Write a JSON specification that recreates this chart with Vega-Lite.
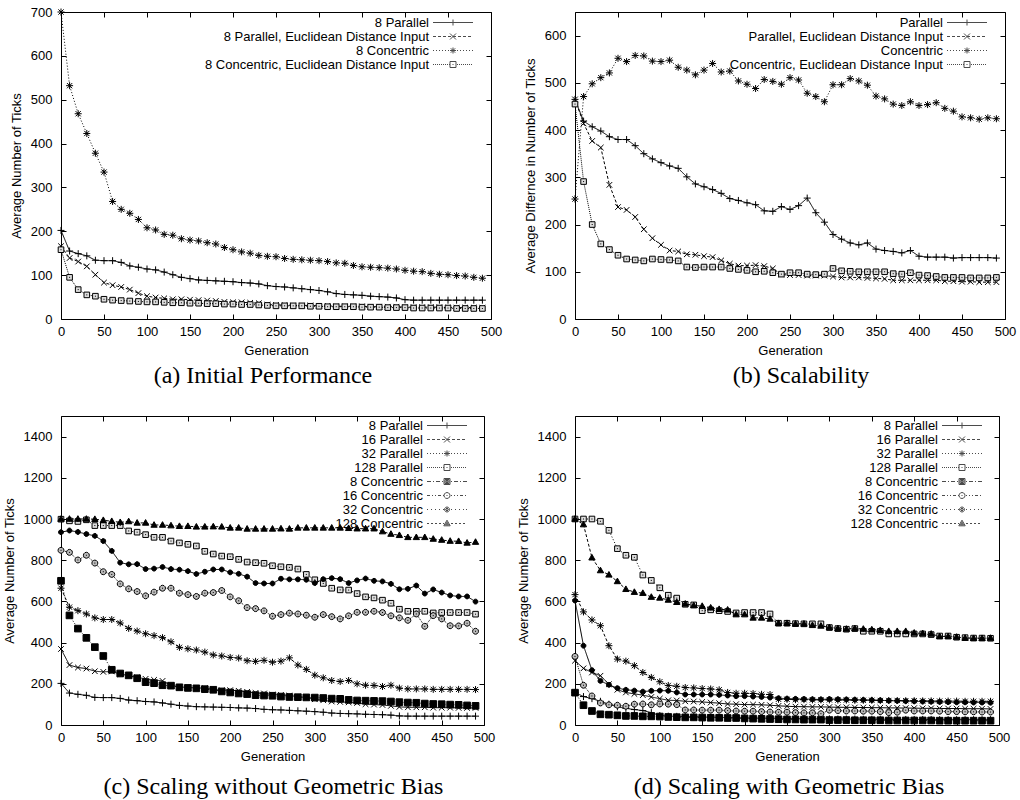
{
"$schema":"https://vega.github.io/schema/vega-lite/v6.json",
"padding":{"left":2,"top":5,"right":5,"bottom":0},
"datasets":{
"a":[
{"g":0,"8 Parallel":202,"8 Parallel, Euclidean Distance Input":166,"8 Concentric":700,"8 Concentric, Euclidean Distance Input":158},
{"g":10,"8 Parallel":155,"8 Parallel, Euclidean Distance Input":139,"8 Concentric":532,"8 Concentric, Euclidean Distance Input":95},
{"g":20,"8 Parallel":149,"8 Parallel, Euclidean Distance Input":131,"8 Concentric":468,"8 Concentric, Euclidean Distance Input":67},
{"g":30,"8 Parallel":144,"8 Parallel, Euclidean Distance Input":120,"8 Concentric":423,"8 Concentric, Euclidean Distance Input":55},
{"g":40,"8 Parallel":134,"8 Parallel, Euclidean Distance Input":101,"8 Concentric":378,"8 Concentric, Euclidean Distance Input":52},
{"g":50,"8 Parallel":133,"8 Parallel, Euclidean Distance Input":83,"8 Concentric":335,"8 Concentric, Euclidean Distance Input":45},
{"g":60,"8 Parallel":133,"8 Parallel, Euclidean Distance Input":77,"8 Concentric":268,"8 Concentric, Euclidean Distance Input":43},
{"g":70,"8 Parallel":129,"8 Parallel, Euclidean Distance Input":73,"8 Concentric":250,"8 Concentric, Euclidean Distance Input":42},
{"g":80,"8 Parallel":121,"8 Parallel, Euclidean Distance Input":67,"8 Concentric":241,"8 Concentric, Euclidean Distance Input":41},
{"g":90,"8 Parallel":118,"8 Parallel, Euclidean Distance Input":59,"8 Concentric":227,"8 Concentric, Euclidean Distance Input":40},
{"g":100,"8 Parallel":114,"8 Parallel, Euclidean Distance Input":52,"8 Concentric":208,"8 Concentric, Euclidean Distance Input":39},
{"g":110,"8 Parallel":112,"8 Parallel, Euclidean Distance Input":49,"8 Concentric":203,"8 Concentric, Euclidean Distance Input":39},
{"g":120,"8 Parallel":107,"8 Parallel, Euclidean Distance Input":47,"8 Concentric":193,"8 Concentric, Euclidean Distance Input":38},
{"g":130,"8 Parallel":101,"8 Parallel, Euclidean Distance Input":45,"8 Concentric":191,"8 Concentric, Euclidean Distance Input":37},
{"g":140,"8 Parallel":95,"8 Parallel, Euclidean Distance Input":45,"8 Concentric":183,"8 Concentric, Euclidean Distance Input":37},
{"g":150,"8 Parallel":92,"8 Parallel, Euclidean Distance Input":44,"8 Concentric":180,"8 Concentric, Euclidean Distance Input":36},
{"g":160,"8 Parallel":89,"8 Parallel, Euclidean Distance Input":43,"8 Concentric":178,"8 Concentric, Euclidean Distance Input":36},
{"g":170,"8 Parallel":88,"8 Parallel, Euclidean Distance Input":42,"8 Concentric":174,"8 Concentric, Euclidean Distance Input":35},
{"g":180,"8 Parallel":87,"8 Parallel, Euclidean Distance Input":41,"8 Concentric":171,"8 Concentric, Euclidean Distance Input":35},
{"g":190,"8 Parallel":86,"8 Parallel, Euclidean Distance Input":39,"8 Concentric":163,"8 Concentric, Euclidean Distance Input":34},
{"g":200,"8 Parallel":85,"8 Parallel, Euclidean Distance Input":38,"8 Concentric":158,"8 Concentric, Euclidean Distance Input":34},
{"g":210,"8 Parallel":83,"8 Parallel, Euclidean Distance Input":38,"8 Concentric":153,"8 Concentric, Euclidean Distance Input":33},
{"g":220,"8 Parallel":82,"8 Parallel, Euclidean Distance Input":37,"8 Concentric":150,"8 Concentric, Euclidean Distance Input":33},
{"g":230,"8 Parallel":80,"8 Parallel, Euclidean Distance Input":36,"8 Concentric":145,"8 Concentric, Euclidean Distance Input":32},
{"g":240,"8 Parallel":76,"8 Parallel, Euclidean Distance Input":33,"8 Concentric":143,"8 Concentric, Euclidean Distance Input":31},
{"g":250,"8 Parallel":74,"8 Parallel, Euclidean Distance Input":32,"8 Concentric":142,"8 Concentric, Euclidean Distance Input":30},
{"g":260,"8 Parallel":73,"8 Parallel, Euclidean Distance Input":32,"8 Concentric":138,"8 Concentric, Euclidean Distance Input":30},
{"g":270,"8 Parallel":71,"8 Parallel, Euclidean Distance Input":31,"8 Concentric":136,"8 Concentric, Euclidean Distance Input":30},
{"g":280,"8 Parallel":69,"8 Parallel, Euclidean Distance Input":31,"8 Concentric":135,"8 Concentric, Euclidean Distance Input":30},
{"g":290,"8 Parallel":67,"8 Parallel, Euclidean Distance Input":31,"8 Concentric":134,"8 Concentric, Euclidean Distance Input":29},
{"g":300,"8 Parallel":65,"8 Parallel, Euclidean Distance Input":30,"8 Concentric":133,"8 Concentric, Euclidean Distance Input":29},
{"g":310,"8 Parallel":62,"8 Parallel, Euclidean Distance Input":30,"8 Concentric":131,"8 Concentric, Euclidean Distance Input":28},
{"g":320,"8 Parallel":58,"8 Parallel, Euclidean Distance Input":29,"8 Concentric":128,"8 Concentric, Euclidean Distance Input":28},
{"g":330,"8 Parallel":56,"8 Parallel, Euclidean Distance Input":29,"8 Concentric":127,"8 Concentric, Euclidean Distance Input":28},
{"g":340,"8 Parallel":55,"8 Parallel, Euclidean Distance Input":29,"8 Concentric":122,"8 Concentric, Euclidean Distance Input":28},
{"g":350,"8 Parallel":54,"8 Parallel, Euclidean Distance Input":29,"8 Concentric":119,"8 Concentric, Euclidean Distance Input":27},
{"g":360,"8 Parallel":52,"8 Parallel, Euclidean Distance Input":28,"8 Concentric":118,"8 Concentric, Euclidean Distance Input":27},
{"g":370,"8 Parallel":51,"8 Parallel, Euclidean Distance Input":28,"8 Concentric":117,"8 Concentric, Euclidean Distance Input":27},
{"g":380,"8 Parallel":50,"8 Parallel, Euclidean Distance Input":28,"8 Concentric":116,"8 Concentric, Euclidean Distance Input":26},
{"g":390,"8 Parallel":48,"8 Parallel, Euclidean Distance Input":28,"8 Concentric":114,"8 Concentric, Euclidean Distance Input":26},
{"g":400,"8 Parallel":44,"8 Parallel, Euclidean Distance Input":27,"8 Concentric":111,"8 Concentric, Euclidean Distance Input":26},
{"g":410,"8 Parallel":43,"8 Parallel, Euclidean Distance Input":27,"8 Concentric":109,"8 Concentric, Euclidean Distance Input":25},
{"g":420,"8 Parallel":43,"8 Parallel, Euclidean Distance Input":27,"8 Concentric":108,"8 Concentric, Euclidean Distance Input":25},
{"g":430,"8 Parallel":43,"8 Parallel, Euclidean Distance Input":27,"8 Concentric":104,"8 Concentric, Euclidean Distance Input":25},
{"g":440,"8 Parallel":43,"8 Parallel, Euclidean Distance Input":27,"8 Concentric":102,"8 Concentric, Euclidean Distance Input":25},
{"g":450,"8 Parallel":43,"8 Parallel, Euclidean Distance Input":26,"8 Concentric":101,"8 Concentric, Euclidean Distance Input":25},
{"g":460,"8 Parallel":43,"8 Parallel, Euclidean Distance Input":26,"8 Concentric":99,"8 Concentric, Euclidean Distance Input":24},
{"g":470,"8 Parallel":43,"8 Parallel, Euclidean Distance Input":26,"8 Concentric":98,"8 Concentric, Euclidean Distance Input":24},
{"g":480,"8 Parallel":43,"8 Parallel, Euclidean Distance Input":26,"8 Concentric":95,"8 Concentric, Euclidean Distance Input":24},
{"g":490,"8 Parallel":43,"8 Parallel, Euclidean Distance Input":26,"8 Concentric":93,"8 Concentric, Euclidean Distance Input":24}
],
"b":[
{"g":0,"Parallel":465,"Parallel, Euclidean Distance Input":465,"Concentric":254,"Concentric, Euclidean Distance Input":455},
{"g":10,"Parallel":419,"Parallel, Euclidean Distance Input":414,"Concentric":471,"Concentric, Euclidean Distance Input":291},
{"g":20,"Parallel":407,"Parallel, Euclidean Distance Input":377,"Concentric":498,"Concentric, Euclidean Distance Input":200},
{"g":30,"Parallel":398,"Parallel, Euclidean Distance Input":363,"Concentric":511,"Concentric, Euclidean Distance Input":159},
{"g":40,"Parallel":386,"Parallel, Euclidean Distance Input":284,"Concentric":521,"Concentric, Euclidean Distance Input":147},
{"g":50,"Parallel":380,"Parallel, Euclidean Distance Input":237,"Concentric":552,"Concentric, Euclidean Distance Input":135},
{"g":60,"Parallel":380,"Parallel, Euclidean Distance Input":231,"Concentric":545,"Concentric, Euclidean Distance Input":127},
{"g":70,"Parallel":367,"Parallel, Euclidean Distance Input":216,"Concentric":558,"Concentric, Euclidean Distance Input":125},
{"g":80,"Parallel":350,"Parallel, Euclidean Distance Input":190,"Concentric":557,"Concentric, Euclidean Distance Input":123},
{"g":90,"Parallel":339,"Parallel, Euclidean Distance Input":171,"Concentric":546,"Concentric, Euclidean Distance Input":127},
{"g":100,"Parallel":331,"Parallel, Euclidean Distance Input":157,"Concentric":545,"Concentric, Euclidean Distance Input":126},
{"g":110,"Parallel":324,"Parallel, Euclidean Distance Input":145,"Concentric":548,"Concentric, Euclidean Distance Input":125},
{"g":120,"Parallel":319,"Parallel, Euclidean Distance Input":143,"Concentric":533,"Concentric, Euclidean Distance Input":123},
{"g":130,"Parallel":301,"Parallel, Euclidean Distance Input":137,"Concentric":527,"Concentric, Euclidean Distance Input":110},
{"g":140,"Parallel":286,"Parallel, Euclidean Distance Input":136,"Concentric":517,"Concentric, Euclidean Distance Input":109},
{"g":150,"Parallel":280,"Parallel, Euclidean Distance Input":133,"Concentric":527,"Concentric, Euclidean Distance Input":110},
{"g":160,"Parallel":274,"Parallel, Euclidean Distance Input":131,"Concentric":541,"Concentric, Euclidean Distance Input":110},
{"g":170,"Parallel":266,"Parallel, Euclidean Distance Input":124,"Concentric":523,"Concentric, Euclidean Distance Input":110},
{"g":180,"Parallel":255,"Parallel, Euclidean Distance Input":117,"Concentric":525,"Concentric, Euclidean Distance Input":107},
{"g":190,"Parallel":251,"Parallel, Euclidean Distance Input":113,"Concentric":504,"Concentric, Euclidean Distance Input":105},
{"g":200,"Parallel":246,"Parallel, Euclidean Distance Input":113,"Concentric":497,"Concentric, Euclidean Distance Input":103},
{"g":210,"Parallel":242,"Parallel, Euclidean Distance Input":114,"Concentric":488,"Concentric, Euclidean Distance Input":100},
{"g":220,"Parallel":229,"Parallel, Euclidean Distance Input":112,"Concentric":507,"Concentric, Euclidean Distance Input":101},
{"g":230,"Parallel":228,"Parallel, Euclidean Distance Input":107,"Concentric":503,"Concentric, Euclidean Distance Input":98},
{"g":240,"Parallel":238,"Parallel, Euclidean Distance Input":94,"Concentric":497,"Concentric, Euclidean Distance Input":95},
{"g":250,"Parallel":232,"Parallel, Euclidean Distance Input":93,"Concentric":511,"Concentric, Euclidean Distance Input":98},
{"g":260,"Parallel":240,"Parallel, Euclidean Distance Input":93,"Concentric":506,"Concentric, Euclidean Distance Input":98},
{"g":270,"Parallel":256,"Parallel, Euclidean Distance Input":92,"Concentric":478,"Concentric, Euclidean Distance Input":95},
{"g":280,"Parallel":225,"Parallel, Euclidean Distance Input":92,"Concentric":471,"Concentric, Euclidean Distance Input":94},
{"g":290,"Parallel":205,"Parallel, Euclidean Distance Input":92,"Concentric":460,"Concentric, Euclidean Distance Input":95},
{"g":300,"Parallel":179,"Parallel, Euclidean Distance Input":90,"Concentric":496,"Concentric, Euclidean Distance Input":107},
{"g":310,"Parallel":169,"Parallel, Euclidean Distance Input":88,"Concentric":496,"Concentric, Euclidean Distance Input":102},
{"g":320,"Parallel":161,"Parallel, Euclidean Distance Input":88,"Concentric":509,"Concentric, Euclidean Distance Input":101},
{"g":330,"Parallel":157,"Parallel, Euclidean Distance Input":88,"Concentric":504,"Concentric, Euclidean Distance Input":100},
{"g":340,"Parallel":161,"Parallel, Euclidean Distance Input":87,"Concentric":495,"Concentric, Euclidean Distance Input":100},
{"g":350,"Parallel":148,"Parallel, Euclidean Distance Input":86,"Concentric":472,"Concentric, Euclidean Distance Input":100},
{"g":360,"Parallel":145,"Parallel, Euclidean Distance Input":85,"Concentric":466,"Concentric, Euclidean Distance Input":100},
{"g":370,"Parallel":143,"Parallel, Euclidean Distance Input":82,"Concentric":455,"Concentric, Euclidean Distance Input":96},
{"g":380,"Parallel":140,"Parallel, Euclidean Distance Input":82,"Concentric":452,"Concentric, Euclidean Distance Input":95},
{"g":390,"Parallel":145,"Parallel, Euclidean Distance Input":82,"Concentric":460,"Concentric, Euclidean Distance Input":98},
{"g":400,"Parallel":133,"Parallel, Euclidean Distance Input":82,"Concentric":452,"Concentric, Euclidean Distance Input":93},
{"g":410,"Parallel":131,"Parallel, Euclidean Distance Input":82,"Concentric":454,"Concentric, Euclidean Distance Input":92},
{"g":420,"Parallel":131,"Parallel, Euclidean Distance Input":82,"Concentric":458,"Concentric, Euclidean Distance Input":90},
{"g":430,"Parallel":131,"Parallel, Euclidean Distance Input":80,"Concentric":446,"Concentric, Euclidean Distance Input":88},
{"g":440,"Parallel":129,"Parallel, Euclidean Distance Input":80,"Concentric":440,"Concentric, Euclidean Distance Input":88},
{"g":450,"Parallel":130,"Parallel, Euclidean Distance Input":79,"Concentric":428,"Concentric, Euclidean Distance Input":88},
{"g":460,"Parallel":130,"Parallel, Euclidean Distance Input":79,"Concentric":426,"Concentric, Euclidean Distance Input":87},
{"g":470,"Parallel":130,"Parallel, Euclidean Distance Input":78,"Concentric":423,"Concentric, Euclidean Distance Input":87},
{"g":480,"Parallel":130,"Parallel, Euclidean Distance Input":78,"Concentric":426,"Concentric, Euclidean Distance Input":87},
{"g":490,"Parallel":129,"Parallel, Euclidean Distance Input":78,"Concentric":424,"Concentric, Euclidean Distance Input":88}
],
"c":[
{"g":0,"8 Parallel":202,"16 Parallel":369,"32 Parallel":664,"128 Parallel":999,"8 Concentric":700,"16 Concentric":848,"32 Concentric":936,"128 Concentric":1000},
{"g":10,"8 Parallel":155,"16 Parallel":291,"32 Parallel":572,"128 Parallel":991,"8 Concentric":532,"16 Concentric":838,"32 Concentric":944,"128 Concentric":1000},
{"g":20,"8 Parallel":149,"16 Parallel":279,"32 Parallel":555,"128 Parallel":988,"8 Concentric":468,"16 Concentric":801,"32 Concentric":937,"128 Concentric":1000},
{"g":30,"8 Parallel":144,"16 Parallel":274,"32 Parallel":539,"128 Parallel":996,"8 Concentric":423,"16 Concentric":824,"32 Concentric":927,"128 Concentric":1000},
{"g":40,"8 Parallel":134,"16 Parallel":261,"32 Parallel":520,"128 Parallel":968,"8 Concentric":378,"16 Concentric":786,"32 Concentric":918,"128 Concentric":999},
{"g":50,"8 Parallel":133,"16 Parallel":258,"32 Parallel":512,"128 Parallel":968,"8 Concentric":335,"16 Concentric":744,"32 Concentric":893,"128 Concentric":994},
{"g":60,"8 Parallel":133,"16 Parallel":260,"32 Parallel":512,"128 Parallel":968,"8 Concentric":268,"16 Concentric":731,"32 Concentric":845,"128 Concentric":989},
{"g":70,"8 Parallel":129,"16 Parallel":247,"32 Parallel":495,"128 Parallel":968,"8 Concentric":250,"16 Concentric":685,"32 Concentric":788,"128 Concentric":984},
{"g":80,"8 Parallel":121,"16 Parallel":240,"32 Parallel":469,"128 Parallel":942,"8 Concentric":241,"16 Concentric":661,"32 Concentric":780,"128 Concentric":988},
{"g":90,"8 Parallel":118,"16 Parallel":231,"32 Parallel":456,"128 Parallel":936,"8 Concentric":227,"16 Concentric":648,"32 Concentric":781,"128 Concentric":981},
{"g":100,"8 Parallel":114,"16 Parallel":224,"32 Parallel":443,"128 Parallel":924,"8 Concentric":208,"16 Concentric":627,"32 Concentric":757,"128 Concentric":981},
{"g":110,"8 Parallel":112,"16 Parallel":219,"32 Parallel":434,"128 Parallel":911,"8 Concentric":203,"16 Concentric":645,"32 Concentric":759,"128 Concentric":971},
{"g":120,"8 Parallel":107,"16 Parallel":214,"32 Parallel":424,"128 Parallel":911,"8 Concentric":193,"16 Concentric":664,"32 Concentric":767,"128 Concentric":971},
{"g":130,"8 Parallel":101,"16 Parallel":193,"32 Parallel":404,"128 Parallel":893,"8 Concentric":191,"16 Concentric":664,"32 Concentric":757,"128 Concentric":968},
{"g":140,"8 Parallel":95,"16 Parallel":185,"32 Parallel":377,"128 Parallel":884,"8 Concentric":183,"16 Concentric":640,"32 Concentric":754,"128 Concentric":965},
{"g":150,"8 Parallel":92,"16 Parallel":182,"32 Parallel":370,"128 Parallel":877,"8 Concentric":180,"16 Concentric":633,"32 Concentric":747,"128 Concentric":965},
{"g":160,"8 Parallel":89,"16 Parallel":180,"32 Parallel":364,"128 Parallel":869,"8 Concentric":178,"16 Concentric":624,"32 Concentric":733,"128 Concentric":962},
{"g":170,"8 Parallel":88,"16 Parallel":179,"32 Parallel":354,"128 Parallel":843,"8 Concentric":174,"16 Concentric":640,"32 Concentric":744,"128 Concentric":962},
{"g":180,"8 Parallel":87,"16 Parallel":172,"32 Parallel":340,"128 Parallel":830,"8 Concentric":171,"16 Concentric":643,"32 Concentric":755,"128 Concentric":963},
{"g":190,"8 Parallel":86,"16 Parallel":169,"32 Parallel":335,"128 Parallel":820,"8 Concentric":163,"16 Concentric":653,"32 Concentric":755,"128 Concentric":962},
{"g":200,"8 Parallel":85,"16 Parallel":169,"32 Parallel":328,"128 Parallel":817,"8 Concentric":158,"16 Concentric":622,"32 Concentric":741,"128 Concentric":957},
{"g":210,"8 Parallel":83,"16 Parallel":166,"32 Parallel":325,"128 Parallel":804,"8 Concentric":153,"16 Concentric":603,"32 Concentric":734,"128 Concentric":957},
{"g":220,"8 Parallel":82,"16 Parallel":161,"32 Parallel":312,"128 Parallel":791,"8 Concentric":150,"16 Concentric":570,"32 Concentric":720,"128 Concentric":952},
{"g":230,"8 Parallel":80,"16 Parallel":156,"32 Parallel":309,"128 Parallel":788,"8 Concentric":145,"16 Concentric":565,"32 Concentric":689,"128 Concentric":952},
{"g":240,"8 Parallel":76,"16 Parallel":153,"32 Parallel":314,"128 Parallel":785,"8 Concentric":143,"16 Concentric":554,"32 Concentric":687,"128 Concentric":952},
{"g":250,"8 Parallel":74,"16 Parallel":148,"32 Parallel":305,"128 Parallel":773,"8 Concentric":142,"16 Concentric":528,"32 Concentric":687,"128 Concentric":952},
{"g":260,"8 Parallel":73,"16 Parallel":146,"32 Parallel":310,"128 Parallel":768,"8 Concentric":138,"16 Concentric":536,"32 Concentric":710,"128 Concentric":953},
{"g":270,"8 Parallel":71,"16 Parallel":143,"32 Parallel":326,"128 Parallel":765,"8 Concentric":136,"16 Concentric":543,"32 Concentric":707,"128 Concentric":952},
{"g":280,"8 Parallel":69,"16 Parallel":138,"32 Parallel":291,"128 Parallel":757,"8 Concentric":135,"16 Concentric":539,"32 Concentric":707,"128 Concentric":957},
{"g":290,"8 Parallel":67,"16 Parallel":133,"32 Parallel":270,"128 Parallel":731,"8 Concentric":134,"16 Concentric":533,"32 Concentric":705,"128 Concentric":957},
{"g":300,"8 Parallel":65,"16 Parallel":125,"32 Parallel":242,"128 Parallel":705,"8 Concentric":133,"16 Concentric":523,"32 Concentric":689,"128 Concentric":957},
{"g":310,"8 Parallel":62,"16 Parallel":120,"32 Parallel":229,"128 Parallel":687,"8 Concentric":131,"16 Concentric":536,"32 Concentric":708,"128 Concentric":957},
{"g":320,"8 Parallel":58,"16 Parallel":114,"32 Parallel":216,"128 Parallel":664,"8 Concentric":128,"16 Concentric":526,"32 Concentric":713,"128 Concentric":957},
{"g":330,"8 Parallel":56,"16 Parallel":112,"32 Parallel":211,"128 Parallel":656,"8 Concentric":127,"16 Concentric":515,"32 Concentric":708,"128 Concentric":957},
{"g":340,"8 Parallel":55,"16 Parallel":110,"32 Parallel":216,"128 Parallel":655,"8 Concentric":122,"16 Concentric":530,"32 Concentric":689,"128 Concentric":955},
{"g":350,"8 Parallel":54,"16 Parallel":107,"32 Parallel":200,"128 Parallel":638,"8 Concentric":119,"16 Concentric":547,"32 Concentric":702,"128 Concentric":953},
{"g":360,"8 Parallel":52,"16 Parallel":101,"32 Parallel":193,"128 Parallel":622,"8 Concentric":118,"16 Concentric":547,"32 Concentric":711,"128 Concentric":953},
{"g":370,"8 Parallel":51,"16 Parallel":99,"32 Parallel":192,"128 Parallel":617,"8 Concentric":117,"16 Concentric":552,"32 Concentric":700,"128 Concentric":953},
{"g":380,"8 Parallel":50,"16 Parallel":97,"32 Parallel":187,"128 Parallel":606,"8 Concentric":116,"16 Concentric":546,"32 Concentric":697,"128 Concentric":939},
{"g":390,"8 Parallel":48,"16 Parallel":93,"32 Parallel":193,"128 Parallel":591,"8 Concentric":114,"16 Concentric":530,"32 Concentric":685,"128 Concentric":927},
{"g":400,"8 Parallel":44,"16 Parallel":88,"32 Parallel":179,"128 Parallel":562,"8 Concentric":111,"16 Concentric":520,"32 Concentric":659,"128 Concentric":921},
{"g":410,"8 Parallel":43,"16 Parallel":86,"32 Parallel":175,"128 Parallel":552,"8 Concentric":109,"16 Concentric":508,"32 Concentric":661,"128 Concentric":911},
{"g":420,"8 Parallel":43,"16 Parallel":86,"32 Parallel":175,"128 Parallel":552,"8 Concentric":108,"16 Concentric":539,"32 Concentric":677,"128 Concentric":911},
{"g":430,"8 Parallel":43,"16 Parallel":86,"32 Parallel":175,"128 Parallel":552,"8 Concentric":104,"16 Concentric":479,"32 Concentric":638,"128 Concentric":911},
{"g":440,"8 Parallel":43,"16 Parallel":84,"32 Parallel":173,"128 Parallel":544,"8 Concentric":102,"16 Concentric":531,"32 Concentric":658,"128 Concentric":903},
{"g":450,"8 Parallel":43,"16 Parallel":84,"32 Parallel":173,"128 Parallel":546,"8 Concentric":101,"16 Concentric":515,"32 Concentric":643,"128 Concentric":898},
{"g":460,"8 Parallel":43,"16 Parallel":84,"32 Parallel":173,"128 Parallel":546,"8 Concentric":99,"16 Concentric":482,"32 Concentric":629,"128 Concentric":893},
{"g":470,"8 Parallel":43,"16 Parallel":83,"32 Parallel":173,"128 Parallel":546,"8 Concentric":98,"16 Concentric":481,"32 Concentric":624,"128 Concentric":892},
{"g":480,"8 Parallel":43,"16 Parallel":83,"32 Parallel":173,"128 Parallel":546,"8 Concentric":95,"16 Concentric":494,"32 Concentric":624,"128 Concentric":884},
{"g":490,"8 Parallel":43,"16 Parallel":83,"32 Parallel":172,"128 Parallel":538,"8 Concentric":93,"16 Concentric":455,"32 Concentric":599,"128 Concentric":888}
],
"d":[
{"g":0,"8 Parallel":158,"16 Parallel":312,"32 Parallel":633,"128 Parallel":1000,"8 Concentric":157,"16 Concentric":333,"32 Concentric":604,"128 Concentric":1000},
{"g":10,"8 Parallel":138,"16 Parallel":275,"32 Parallel":549,"128 Parallel":1000,"8 Concentric":96,"16 Concentric":193,"32 Concentric":385,"128 Concentric":973},
{"g":20,"8 Parallel":128,"16 Parallel":255,"32 Parallel":510,"128 Parallel":1000,"8 Concentric":68,"16 Concentric":141,"32 Concentric":266,"128 Concentric":812},
{"g":30,"8 Parallel":115,"16 Parallel":239,"32 Parallel":482,"128 Parallel":989,"8 Concentric":52,"16 Concentric":107,"32 Concentric":214,"128 Concentric":750},
{"g":40,"8 Parallel":101,"16 Parallel":198,"32 Parallel":385,"128 Parallel":945,"8 Concentric":50,"16 Concentric":98,"32 Concentric":195,"128 Concentric":729},
{"g":50,"8 Parallel":88,"16 Parallel":171,"32 Parallel":320,"128 Parallel":856,"8 Concentric":47,"16 Concentric":96,"32 Concentric":179,"128 Concentric":697},
{"g":60,"8 Parallel":81,"16 Parallel":158,"32 Parallel":310,"128 Parallel":824,"8 Concentric":44,"16 Concentric":91,"32 Concentric":171,"128 Concentric":659},
{"g":70,"8 Parallel":75,"16 Parallel":151,"32 Parallel":288,"128 Parallel":814,"8 Concentric":44,"16 Concentric":101,"32 Concentric":167,"128 Concentric":645},
{"g":80,"8 Parallel":70,"16 Parallel":145,"32 Parallel":255,"128 Parallel":728,"8 Concentric":42,"16 Concentric":102,"32 Concentric":162,"128 Concentric":640},
{"g":90,"8 Parallel":60,"16 Parallel":136,"32 Parallel":231,"128 Parallel":702,"8 Concentric":42,"16 Concentric":98,"32 Concentric":166,"128 Concentric":621},
{"g":100,"8 Parallel":46,"16 Parallel":128,"32 Parallel":210,"128 Parallel":666,"8 Concentric":41,"16 Concentric":102,"32 Concentric":167,"128 Concentric":617},
{"g":110,"8 Parallel":43,"16 Parallel":120,"32 Parallel":192,"128 Parallel":630,"8 Concentric":39,"16 Concentric":101,"32 Concentric":166,"128 Concentric":607},
{"g":120,"8 Parallel":42,"16 Parallel":119,"32 Parallel":188,"128 Parallel":616,"8 Concentric":38,"16 Concentric":99,"32 Concentric":158,"128 Concentric":596},
{"g":130,"8 Parallel":41,"16 Parallel":115,"32 Parallel":182,"128 Parallel":586,"8 Concentric":37,"16 Concentric":73,"32 Concentric":148,"128 Concentric":588},
{"g":140,"8 Parallel":40,"16 Parallel":114,"32 Parallel":180,"128 Parallel":583,"8 Concentric":37,"16 Concentric":73,"32 Concentric":148,"128 Concentric":580},
{"g":150,"8 Parallel":39,"16 Parallel":112,"32 Parallel":177,"128 Parallel":555,"8 Concentric":36,"16 Concentric":72,"32 Concentric":148,"128 Concentric":577},
{"g":160,"8 Parallel":38,"16 Parallel":109,"32 Parallel":175,"128 Parallel":559,"8 Concentric":35,"16 Concentric":72,"32 Concentric":148,"128 Concentric":569},
{"g":170,"8 Parallel":37,"16 Parallel":106,"32 Parallel":171,"128 Parallel":555,"8 Concentric":35,"16 Concentric":72,"32 Concentric":146,"128 Concentric":562},
{"g":180,"8 Parallel":36,"16 Parallel":102,"32 Parallel":158,"128 Parallel":551,"8 Concentric":34,"16 Concentric":70,"32 Concentric":143,"128 Concentric":559},
{"g":190,"8 Parallel":35,"16 Parallel":101,"32 Parallel":154,"128 Parallel":544,"8 Concentric":34,"16 Concentric":68,"32 Concentric":140,"128 Concentric":536},
{"g":200,"8 Parallel":34,"16 Parallel":99,"32 Parallel":154,"128 Parallel":546,"8 Concentric":32,"16 Concentric":67,"32 Concentric":140,"128 Concentric":536},
{"g":210,"8 Parallel":34,"16 Parallel":99,"32 Parallel":153,"128 Parallel":546,"8 Concentric":31,"16 Concentric":67,"32 Concentric":138,"128 Concentric":520},
{"g":220,"8 Parallel":33,"16 Parallel":98,"32 Parallel":149,"128 Parallel":546,"8 Concentric":30,"16 Concentric":65,"32 Concentric":136,"128 Concentric":520},
{"g":230,"8 Parallel":33,"16 Parallel":96,"32 Parallel":148,"128 Parallel":539,"8 Concentric":29,"16 Concentric":63,"32 Concentric":133,"128 Concentric":515},
{"g":240,"8 Parallel":32,"16 Parallel":93,"32 Parallel":125,"128 Parallel":494,"8 Concentric":28,"16 Concentric":62,"32 Concentric":130,"128 Concentric":494},
{"g":250,"8 Parallel":32,"16 Parallel":91,"32 Parallel":125,"128 Parallel":494,"8 Concentric":27,"16 Concentric":62,"32 Concentric":128,"128 Concentric":494},
{"g":260,"8 Parallel":31,"16 Parallel":89,"32 Parallel":123,"128 Parallel":492,"8 Concentric":27,"16 Concentric":60,"32 Concentric":127,"128 Concentric":491},
{"g":270,"8 Parallel":31,"16 Parallel":89,"32 Parallel":123,"128 Parallel":491,"8 Concentric":26,"16 Concentric":59,"32 Concentric":126,"128 Concentric":491},
{"g":280,"8 Parallel":30,"16 Parallel":88,"32 Parallel":122,"128 Parallel":491,"8 Concentric":26,"16 Concentric":59,"32 Concentric":125,"128 Concentric":484},
{"g":290,"8 Parallel":30,"16 Parallel":88,"32 Parallel":122,"128 Parallel":491,"8 Concentric":26,"16 Concentric":55,"32 Concentric":124,"128 Concentric":481},
{"g":300,"8 Parallel":30,"16 Parallel":87,"32 Parallel":122,"128 Parallel":473,"8 Concentric":24,"16 Concentric":72,"32 Concentric":126,"128 Concentric":474},
{"g":310,"8 Parallel":29,"16 Parallel":86,"32 Parallel":121,"128 Parallel":468,"8 Concentric":24,"16 Concentric":70,"32 Concentric":125,"128 Concentric":469},
{"g":320,"8 Parallel":29,"16 Parallel":86,"32 Parallel":121,"128 Parallel":465,"8 Concentric":24,"16 Concentric":68,"32 Concentric":124,"128 Concentric":466},
{"g":330,"8 Parallel":29,"16 Parallel":85,"32 Parallel":120,"128 Parallel":468,"8 Concentric":23,"16 Concentric":68,"32 Concentric":123,"128 Concentric":469},
{"g":340,"8 Parallel":28,"16 Parallel":85,"32 Parallel":120,"128 Parallel":455,"8 Concentric":23,"16 Concentric":67,"32 Concentric":122,"128 Concentric":466},
{"g":350,"8 Parallel":28,"16 Parallel":84,"32 Parallel":120,"128 Parallel":455,"8 Concentric":23,"16 Concentric":67,"32 Concentric":121,"128 Concentric":463},
{"g":360,"8 Parallel":28,"16 Parallel":84,"32 Parallel":119,"128 Parallel":455,"8 Concentric":23,"16 Concentric":65,"32 Concentric":120,"128 Concentric":460},
{"g":370,"8 Parallel":28,"16 Parallel":83,"32 Parallel":119,"128 Parallel":442,"8 Concentric":22,"16 Concentric":60,"32 Concentric":118,"128 Concentric":455},
{"g":380,"8 Parallel":27,"16 Parallel":83,"32 Parallel":119,"128 Parallel":442,"8 Concentric":22,"16 Concentric":62,"32 Concentric":117,"128 Concentric":455},
{"g":390,"8 Parallel":27,"16 Parallel":82,"32 Parallel":118,"128 Parallel":442,"8 Concentric":22,"16 Concentric":72,"32 Concentric":116,"128 Concentric":455},
{"g":400,"8 Parallel":27,"16 Parallel":82,"32 Parallel":118,"128 Parallel":442,"8 Concentric":22,"16 Concentric":68,"32 Concentric":115,"128 Concentric":447},
{"g":410,"8 Parallel":27,"16 Parallel":81,"32 Parallel":117,"128 Parallel":442,"8 Concentric":22,"16 Concentric":68,"32 Concentric":114,"128 Concentric":445},
{"g":420,"8 Parallel":27,"16 Parallel":81,"32 Parallel":117,"128 Parallel":439,"8 Concentric":22,"16 Concentric":68,"32 Concentric":113,"128 Concentric":442},
{"g":430,"8 Parallel":26,"16 Parallel":80,"32 Parallel":116,"128 Parallel":432,"8 Concentric":21,"16 Concentric":67,"32 Concentric":112,"128 Concentric":430},
{"g":440,"8 Parallel":26,"16 Parallel":80,"32 Parallel":116,"128 Parallel":432,"8 Concentric":21,"16 Concentric":65,"32 Concentric":111,"128 Concentric":430},
{"g":450,"8 Parallel":26,"16 Parallel":80,"32 Parallel":116,"128 Parallel":426,"8 Concentric":21,"16 Concentric":65,"32 Concentric":110,"128 Concentric":427},
{"g":460,"8 Parallel":26,"16 Parallel":79,"32 Parallel":115,"128 Parallel":424,"8 Concentric":21,"16 Concentric":64,"32 Concentric":110,"128 Concentric":422},
{"g":470,"8 Parallel":26,"16 Parallel":79,"32 Parallel":115,"128 Parallel":422,"8 Concentric":21,"16 Concentric":64,"32 Concentric":109,"128 Concentric":421},
{"g":480,"8 Parallel":26,"16 Parallel":79,"32 Parallel":115,"128 Parallel":422,"8 Concentric":21,"16 Concentric":63,"32 Concentric":109,"128 Concentric":421},
{"g":490,"8 Parallel":26,"16 Parallel":78,"32 Parallel":115,"128 Parallel":421,"8 Concentric":21,"16 Concentric":63,"32 Concentric":108,"128 Concentric":422}
]
},
"vconcat":[
{"hconcat":[
{"width":430,"height":307,
 "title":{"text":"(a) Initial Performance","dx":-13},
 "data":{"name":"a"},
 "transform":[{"fold":["8 Parallel","8 Parallel, Euclidean Distance Input","8 Concentric","8 Concentric, Euclidean Distance Input"],"as":["series","v"]}],
 "layer":[
  {"mark":{"type":"line","color":"black","strokeWidth":1},
   "encoding":{
    "x":{"field":"g","type":"quantitative","scale":{"domain":[0,500],"nice":false},"axis":{"orient":"bottom","title":"Generation","values":[0,50,100,150,200,250,300,350,400,450,500]}},
    "y":{"field":"v","type":"quantitative","scale":{"domain":[0,700],"nice":false},"axis":{"orient":"left","title":"Average Number of Ticks","format":"d","values":[0,100,200,300,400,500,600,700]}},
    "strokeDash":{"field":"series","type":"nominal","scale":{"domain":["8 Parallel","8 Parallel, Euclidean Distance Input","8 Concentric","8 Concentric, Euclidean Distance Input"],"range":[[1,0],[3,2],[1,2],[1,1]]},"legend":null}}},
  {"mark":{"type":"point","filled":true,"stroke":"black","strokeWidth":1,"size":49,"opacity":1},
   "encoding":{
    "x":{"field":"g","type":"quantitative","axis":{"orient":"top","labels":false,"title":null,"values":[0,50,100,150,200,250,300,350,400,450,500]}},
    "y":{"field":"v","type":"quantitative","axis":{"orient":"right","labels":false,"title":null,"values":[0,100,200,300,400,500,600,700]}},
    "shape":{"field":"series","type":"nominal","scale":{"domain":["8 Parallel","8 Parallel, Euclidean Distance Input","8 Concentric","8 Concentric, Euclidean Distance Input"],"range":["M-1,0L1,0M0,-1L0,1","M-0.8,-0.8L0.8,0.8M-0.8,0.8L0.8,-0.8","M-1,0L1,0M0,-1L0,1M-0.75,-0.75L0.75,0.75M-0.75,0.75L0.75,-0.75","M-0.8,-0.8L0.8,-0.8L0.8,0.8L-0.8,0.8ZM-0.15,0L0.15,0"]},"legend":null},
    "fill":{"field":"series","type":"nominal","scale":{"domain":["8 Parallel","8 Parallel, Euclidean Distance Input","8 Concentric","8 Concentric, Euclidean Distance Input"],"range":["transparent","transparent","transparent","#dddddd"]},"legend":null}}},
  {"transform":[{"filter":"datum.g < 0"}],
   "mark":{"type":"point","filled":false,"color":"black","strokeWidth":1},
   "encoding":{
    "shape":{"field":"series","type":"nominal","scale":{"domain":["8 Parallel","8 Parallel, Euclidean Distance Input","8 Concentric","8 Concentric, Euclidean Distance Input"],"range":[
"M-2.5,0L37.5,0M17.5,-3L17.5,3M49.5,0",
"M-2.5,0L0.5,0M2.5,0L5.5,0M7.5,0L10.5,0M12.5,0L15.5,0M17.5,0L20.5,0M22.5,0L25.5,0M27.5,0L30.5,0M32.5,0L35.5,0M14.5,-3L20.5,3M14.5,3L20.5,-3M49.5,0",
"M-2.5,0L-1.5,0M0.5,0L1.5,0M3.5,0L4.5,0M6.5,0L7.5,0M9.5,0L10.5,0M12.5,0L13.5,0M21.5,0L22.5,0M24.5,0L25.5,0M27.5,0L28.5,0M30.5,0L31.5,0M33.5,0L34.5,0M36.5,0L37.5,0M14.5,0L20.5,0M17.5,-3L17.5,3M15.3,-2.2L19.7,2.2M15.3,2.2L19.7,-2.2M49.5,0",
"M-2.5,0L-1.5,0M-0.5,0L0.5,0M1.5,0L2.5,0M3.5,0L4.5,0M5.5,0L6.5,0M7.5,0L8.5,0M9.5,0L10.5,0M11.5,0L12.5,0M13.5,0L14.5,0M21.5,0L22.5,0M23.5,0L24.5,0M25.5,0L26.5,0M27.5,0L28.5,0M29.5,0L30.5,0M31.5,0L32.5,0M33.5,0L34.5,0M35.5,0L36.5,0M14.5,-3L20.5,-3L20.5,3L14.5,3ZM17,0L18,0M49.5,0"
]},"legend":{"title":null,"offset":4}}}}
 ],
 "resolve":{"scale":{"shape":"independent","fill":"independent"},"axis":{"x":"independent","y":"independent"}}
},
{"width":430,"height":307,
 "title":{"text":"(b) Scalability","dx":11},
 "data":{"name":"b"},
 "transform":[{"fold":["Parallel","Parallel, Euclidean Distance Input","Concentric","Concentric, Euclidean Distance Input"],"as":["series","v"]}],
 "layer":[
  {"mark":{"type":"line","color":"black","strokeWidth":1},
   "encoding":{
    "x":{"field":"g","type":"quantitative","scale":{"domain":[0,500],"nice":false},"axis":{"orient":"bottom","title":"Generation","values":[0,50,100,150,200,250,300,350,400,450,500]}},
    "y":{"field":"v","type":"quantitative","scale":{"domain":[0,650],"nice":false},"axis":{"orient":"left","title":"Average Differnce in Number of Ticks","format":"d","values":[0,100,200,300,400,500,600]}},
    "strokeDash":{"field":"series","type":"nominal","scale":{"domain":["Parallel","Parallel, Euclidean Distance Input","Concentric","Concentric, Euclidean Distance Input"],"range":[[1,0],[3,2],[1,2],[1,1]]},"legend":null}}},
  {"mark":{"type":"point","filled":true,"stroke":"black","strokeWidth":1,"size":49,"opacity":1},
   "encoding":{
    "x":{"field":"g","type":"quantitative","axis":{"orient":"top","labels":false,"title":null,"values":[0,50,100,150,200,250,300,350,400,450,500]}},
    "y":{"field":"v","type":"quantitative","axis":{"orient":"right","labels":false,"title":null,"values":[0,100,200,300,400,500,600]}},
    "shape":{"field":"series","type":"nominal","scale":{"domain":["Parallel","Parallel, Euclidean Distance Input","Concentric","Concentric, Euclidean Distance Input"],"range":["M-1,0L1,0M0,-1L0,1","M-0.8,-0.8L0.8,0.8M-0.8,0.8L0.8,-0.8","M-1,0L1,0M0,-1L0,1M-0.75,-0.75L0.75,0.75M-0.75,0.75L0.75,-0.75","M-0.8,-0.8L0.8,-0.8L0.8,0.8L-0.8,0.8ZM-0.15,0L0.15,0"]},"legend":null},
    "fill":{"field":"series","type":"nominal","scale":{"domain":["Parallel","Parallel, Euclidean Distance Input","Concentric","Concentric, Euclidean Distance Input"],"range":["transparent","transparent","transparent","#dddddd"]},"legend":null}}},
  {"transform":[{"filter":"datum.g < 0"}],
   "mark":{"type":"point","filled":false,"color":"black","strokeWidth":1},
   "encoding":{
    "shape":{"field":"series","type":"nominal","scale":{"domain":["Parallel","Parallel, Euclidean Distance Input","Concentric","Concentric, Euclidean Distance Input"],"range":[
"M-2.5,0L37.5,0M17.5,-3L17.5,3M49.5,0",
"M-2.5,0L0.5,0M2.5,0L5.5,0M7.5,0L10.5,0M12.5,0L15.5,0M17.5,0L20.5,0M22.5,0L25.5,0M27.5,0L30.5,0M32.5,0L35.5,0M14.5,-3L20.5,3M14.5,3L20.5,-3M49.5,0",
"M-2.5,0L-1.5,0M0.5,0L1.5,0M3.5,0L4.5,0M6.5,0L7.5,0M9.5,0L10.5,0M12.5,0L13.5,0M21.5,0L22.5,0M24.5,0L25.5,0M27.5,0L28.5,0M30.5,0L31.5,0M33.5,0L34.5,0M36.5,0L37.5,0M14.5,0L20.5,0M17.5,-3L17.5,3M15.3,-2.2L19.7,2.2M15.3,2.2L19.7,-2.2M49.5,0",
"M-2.5,0L-1.5,0M-0.5,0L0.5,0M1.5,0L2.5,0M3.5,0L4.5,0M5.5,0L6.5,0M7.5,0L8.5,0M9.5,0L10.5,0M11.5,0L12.5,0M13.5,0L14.5,0M21.5,0L22.5,0M23.5,0L24.5,0M25.5,0L26.5,0M27.5,0L28.5,0M29.5,0L30.5,0M31.5,0L32.5,0M33.5,0L34.5,0M35.5,0L36.5,0M14.5,-3L20.5,-3L20.5,3L14.5,3ZM17,0L18,0M49.5,0"
]},"legend":{"title":null,"offset":4}}}}
 ],
 "resolve":{"scale":{"shape":"independent","fill":"independent"},"axis":{"x":"independent","y":"independent"}}
}
],"spacing":20},
{"hconcat":[
{"width":423,"height":309,
 "title":{"text":"(c) Scaling without Geometric Bias","dx":1,"offset":12},
 "data":{"name":"c"},
 "transform":[{"fold":["8 Parallel","16 Parallel","32 Parallel","128 Parallel","8 Concentric","16 Concentric","32 Concentric","128 Concentric"],"as":["series","v"]}],
 "layer":[
  {"mark":{"type":"line","color":"black","strokeWidth":1},
   "encoding":{
    "x":{"field":"g","type":"quantitative","scale":{"domain":[0,500],"nice":false},"axis":{"orient":"bottom","title":"Generation","values":[0,50,100,150,200,250,300,350,400,450,500]}},
    "y":{"field":"v","type":"quantitative","scale":{"domain":[0,1500],"nice":false},"axis":{"orient":"left","title":"Average Number of Ticks","format":"d","values":[0,200,400,600,800,1000,1200,1400]}},
    "strokeDash":{"field":"series","type":"nominal","scale":{"domain":["8 Parallel","16 Parallel","32 Parallel","128 Parallel","8 Concentric","16 Concentric","32 Concentric","128 Concentric"],"range":[[1,0],[3,2],[1,2],[1,1],[4,2,1,2],[3,2,1,2,1,2],[1,3],[2,2]]},"legend":null}}},
  {"mark":{"type":"point","filled":true,"stroke":"black","strokeWidth":1,"size":49,"opacity":1},
   "encoding":{
    "x":{"field":"g","type":"quantitative","axis":{"orient":"top","labels":false,"title":null,"values":[0,50,100,150,200,250,300,350,400,450,500]}},
    "y":{"field":"v","type":"quantitative","axis":{"orient":"right","labels":false,"title":null,"values":[0,200,400,600,800,1000,1200,1400]}},
    "shape":{"field":"series","type":"nominal","scale":{"domain":["8 Parallel","16 Parallel","32 Parallel","128 Parallel","8 Concentric","16 Concentric","32 Concentric","128 Concentric"],"range":["M-1,0L1,0M0,-1L0,1","M-0.8,-0.8L0.8,0.8M-0.8,0.8L0.8,-0.8","M-1,0L1,0M0,-1L0,1M-0.75,-0.75L0.75,0.75M-0.75,0.75L0.75,-0.75","M-0.8,-0.8L0.8,-0.8L0.8,0.8L-0.8,0.8ZM-0.15,0L0.15,0","M-0.95,-0.95L0.95,-0.95L0.95,0.95L-0.95,0.95Z","M0.85,0L0.736,0.425L0.425,0.736L0,0.85L-0.425,0.736L-0.736,0.425L-0.85,0L-0.736,-0.425L-0.425,-0.736L0,-0.85L0.425,-0.736L0.736,-0.425ZM-0.15,0L0.15,0","M0.7,0L0.606,0.35L0.35,0.606L0,0.7L-0.35,0.606L-0.606,0.35L-0.7,0L-0.606,-0.35L-0.35,-0.606L0,-0.7L0.35,-0.606L0.606,-0.35Z","M0,-0.95L0.9,0.65L-0.9,0.65Z"]},"legend":null},
    "fill":{"field":"series","type":"nominal","scale":{"domain":["8 Parallel","16 Parallel","32 Parallel","128 Parallel","8 Concentric","16 Concentric","32 Concentric","128 Concentric"],"range":["transparent","transparent","transparent","#dddddd","black","#bbbbbb","black","black"]},"legend":null}}},
  {"transform":[{"filter":"datum.g < 0"}],
   "mark":{"type":"point","filled":false,"color":"black","strokeWidth":1},
   "encoding":{
    "shape":{"field":"series","type":"nominal","scale":{"domain":["8 Parallel","16 Parallel","32 Parallel","128 Parallel","8 Concentric","16 Concentric","32 Concentric","128 Concentric"],"range":[
"M-2.5,0L37.5,0M17.5,-3L17.5,3M49.5,0",
"M-2.5,0L0.5,0M2.5,0L5.5,0M7.5,0L10.5,0M12.5,0L15.5,0M17.5,0L20.5,0M22.5,0L25.5,0M27.5,0L30.5,0M32.5,0L35.5,0M14.5,-3L20.5,3M14.5,3L20.5,-3M49.5,0",
"M-2.5,0L-1.5,0M0.5,0L1.5,0M3.5,0L4.5,0M6.5,0L7.5,0M9.5,0L10.5,0M12.5,0L13.5,0M21.5,0L22.5,0M24.5,0L25.5,0M27.5,0L28.5,0M30.5,0L31.5,0M33.5,0L34.5,0M36.5,0L37.5,0M14.5,0L20.5,0M17.5,-3L17.5,3M15.3,-2.2L19.7,2.2M15.3,2.2L19.7,-2.2M49.5,0",
"M-2.5,0L-1.5,0M-0.5,0L0.5,0M1.5,0L2.5,0M3.5,0L4.5,0M5.5,0L6.5,0M7.5,0L8.5,0M9.5,0L10.5,0M11.5,0L12.5,0M13.5,0L14.5,0M21.5,0L22.5,0M23.5,0L24.5,0M25.5,0L26.5,0M27.5,0L28.5,0M29.5,0L30.5,0M31.5,0L32.5,0M33.5,0L34.5,0M35.5,0L36.5,0M14.5,-3L20.5,-3L20.5,3L14.5,3ZM17,0L18,0M49.5,0",
"M-2.5,0L1.5,0M3.5,0L4.5,0M6.5,0L10.5,0M12.5,0L13.5,0M21.5,0L22.5,0M24.5,0L28.5,0M30.5,0L31.5,0M33.5,0L37.5,0M14.5,-3L20.5,-3L20.5,3L14.5,3ZM15.5,-2L19.5,-2L19.5,2L15.5,2ZM16.5,-1L18.5,-1L18.5,1L16.5,1ZM17,0L18,0M49.5,0",
"M-2.5,0L0.5,0M2.5,0L3.5,0M5.5,0L6.5,0M8.5,0L11.5,0M13.5,0L14.5,0M21.5,0L22.5,0M24.5,0L25.5,0M27.5,0L28.5,0M30.5,0L33.5,0M35.5,0L36.5,0M20.5,0L20.1,1.5L19,2.6L17.5,3L16,2.6L14.9,1.5L14.5,0L14.9,-1.5L16,-2.6L17.5,-3L19,-2.6L20.1,-1.5ZM17,0L18,0M49.5,0",
"M-2.5,0L-1.5,0M1.5,0L2.5,0M5.5,0L6.5,0M9.5,0L10.5,0M13.5,0L14.5,0M21.5,0L22.5,0M25.5,0L26.5,0M29.5,0L30.5,0M33.5,0L34.5,0M36.5,0L37.5,0M20,0L19.67,1.25L18.75,2.17L17.5,2.5L16.25,2.17L15.33,1.25L15,0L15.33,-1.25L16.25,-2.17L17.5,-2.5L18.75,-2.17L19.67,-1.25ZM19,0L17.5,1.5L16,0L17.5,-1.5ZM17,0L18,0M49.5,0",
"M-2.5,0L-0.5,0M1.5,0L3.5,0M5.5,0L7.5,0M9.5,0L11.5,0M13.5,0L14.5,0M21.5,0L23.5,0M25.5,0L27.5,0M29.5,0L31.5,0M33.5,0L35.5,0M17.5,-3.3L20.7,2.3L14.3,2.3ZM17.5,-1.3L19,1.3L16,1.3ZM17,0.5L18,0.5M49.5,0"
]},"legend":{"title":null,"offset":3}}}}
 ],
 "resolve":{"scale":{"shape":"independent","fill":"independent"},"axis":{"x":"independent","y":"independent"}}
},
{"width":424,"height":309,
 "title":{"text":"(d) Scaling with Geometric Bias","dx":2,"offset":12},
 "data":{"name":"d"},
 "transform":[{"fold":["8 Parallel","16 Parallel","32 Parallel","128 Parallel","8 Concentric","16 Concentric","32 Concentric","128 Concentric"],"as":["series","v"]}],
 "layer":[
  {"mark":{"type":"line","color":"black","strokeWidth":1},
   "encoding":{
    "x":{"field":"g","type":"quantitative","scale":{"domain":[0,500],"nice":false},"axis":{"orient":"bottom","title":"Generation","values":[0,50,100,150,200,250,300,350,400,450,500]}},
    "y":{"field":"v","type":"quantitative","scale":{"domain":[0,1500],"nice":false},"axis":{"orient":"left","title":"Average Number of Ticks","format":"d","values":[0,200,400,600,800,1000,1200,1400]}},
    "strokeDash":{"field":"series","type":"nominal","scale":{"domain":["8 Parallel","16 Parallel","32 Parallel","128 Parallel","8 Concentric","16 Concentric","32 Concentric","128 Concentric"],"range":[[1,0],[3,2],[1,2],[1,1],[4,2,1,2],[3,2,1,2,1,2],[1,3],[2,2]]},"legend":null}}},
  {"mark":{"type":"point","filled":true,"stroke":"black","strokeWidth":1,"size":49,"opacity":1},
   "encoding":{
    "x":{"field":"g","type":"quantitative","axis":{"orient":"top","labels":false,"title":null,"values":[0,50,100,150,200,250,300,350,400,450,500]}},
    "y":{"field":"v","type":"quantitative","axis":{"orient":"right","labels":false,"title":null,"values":[0,200,400,600,800,1000,1200,1400]}},
    "shape":{"field":"series","type":"nominal","scale":{"domain":["8 Parallel","16 Parallel","32 Parallel","128 Parallel","8 Concentric","16 Concentric","32 Concentric","128 Concentric"],"range":["M-1,0L1,0M0,-1L0,1","M-0.8,-0.8L0.8,0.8M-0.8,0.8L0.8,-0.8","M-1,0L1,0M0,-1L0,1M-0.75,-0.75L0.75,0.75M-0.75,0.75L0.75,-0.75","M-0.8,-0.8L0.8,-0.8L0.8,0.8L-0.8,0.8ZM-0.15,0L0.15,0","M-0.95,-0.95L0.95,-0.95L0.95,0.95L-0.95,0.95Z","M0.85,0L0.736,0.425L0.425,0.736L0,0.85L-0.425,0.736L-0.736,0.425L-0.85,0L-0.736,-0.425L-0.425,-0.736L0,-0.85L0.425,-0.736L0.736,-0.425ZM-0.15,0L0.15,0","M0.7,0L0.606,0.35L0.35,0.606L0,0.7L-0.35,0.606L-0.606,0.35L-0.7,0L-0.606,-0.35L-0.35,-0.606L0,-0.7L0.35,-0.606L0.606,-0.35Z","M0,-0.95L0.9,0.65L-0.9,0.65Z"]},"legend":null},
    "fill":{"field":"series","type":"nominal","scale":{"domain":["8 Parallel","16 Parallel","32 Parallel","128 Parallel","8 Concentric","16 Concentric","32 Concentric","128 Concentric"],"range":["transparent","transparent","transparent","#dddddd","black","#bbbbbb","black","black"]},"legend":null}}},
  {"transform":[{"filter":"datum.g < 0"}],
   "mark":{"type":"point","filled":false,"color":"black","strokeWidth":1},
   "encoding":{
    "shape":{"field":"series","type":"nominal","scale":{"domain":["8 Parallel","16 Parallel","32 Parallel","128 Parallel","8 Concentric","16 Concentric","32 Concentric","128 Concentric"],"range":[
"M-2.5,0L37.5,0M17.5,-3L17.5,3M49.5,0",
"M-2.5,0L0.5,0M2.5,0L5.5,0M7.5,0L10.5,0M12.5,0L15.5,0M17.5,0L20.5,0M22.5,0L25.5,0M27.5,0L30.5,0M32.5,0L35.5,0M14.5,-3L20.5,3M14.5,3L20.5,-3M49.5,0",
"M-2.5,0L-1.5,0M0.5,0L1.5,0M3.5,0L4.5,0M6.5,0L7.5,0M9.5,0L10.5,0M12.5,0L13.5,0M21.5,0L22.5,0M24.5,0L25.5,0M27.5,0L28.5,0M30.5,0L31.5,0M33.5,0L34.5,0M36.5,0L37.5,0M14.5,0L20.5,0M17.5,-3L17.5,3M15.3,-2.2L19.7,2.2M15.3,2.2L19.7,-2.2M49.5,0",
"M-2.5,0L-1.5,0M-0.5,0L0.5,0M1.5,0L2.5,0M3.5,0L4.5,0M5.5,0L6.5,0M7.5,0L8.5,0M9.5,0L10.5,0M11.5,0L12.5,0M13.5,0L14.5,0M21.5,0L22.5,0M23.5,0L24.5,0M25.5,0L26.5,0M27.5,0L28.5,0M29.5,0L30.5,0M31.5,0L32.5,0M33.5,0L34.5,0M35.5,0L36.5,0M14.5,-3L20.5,-3L20.5,3L14.5,3ZM17,0L18,0M49.5,0",
"M-2.5,0L1.5,0M3.5,0L4.5,0M6.5,0L10.5,0M12.5,0L13.5,0M21.5,0L22.5,0M24.5,0L28.5,0M30.5,0L31.5,0M33.5,0L37.5,0M14.5,-3L20.5,-3L20.5,3L14.5,3ZM15.5,-2L19.5,-2L19.5,2L15.5,2ZM16.5,-1L18.5,-1L18.5,1L16.5,1ZM17,0L18,0M49.5,0",
"M-2.5,0L0.5,0M2.5,0L3.5,0M5.5,0L6.5,0M8.5,0L11.5,0M13.5,0L14.5,0M21.5,0L22.5,0M24.5,0L25.5,0M27.5,0L28.5,0M30.5,0L33.5,0M35.5,0L36.5,0M20.5,0L20.1,1.5L19,2.6L17.5,3L16,2.6L14.9,1.5L14.5,0L14.9,-1.5L16,-2.6L17.5,-3L19,-2.6L20.1,-1.5ZM17,0L18,0M49.5,0",
"M-2.5,0L-1.5,0M1.5,0L2.5,0M5.5,0L6.5,0M9.5,0L10.5,0M13.5,0L14.5,0M21.5,0L22.5,0M25.5,0L26.5,0M29.5,0L30.5,0M33.5,0L34.5,0M36.5,0L37.5,0M20,0L19.67,1.25L18.75,2.17L17.5,2.5L16.25,2.17L15.33,1.25L15,0L15.33,-1.25L16.25,-2.17L17.5,-2.5L18.75,-2.17L19.67,-1.25ZM19,0L17.5,1.5L16,0L17.5,-1.5ZM17,0L18,0M49.5,0",
"M-2.5,0L-0.5,0M1.5,0L3.5,0M5.5,0L7.5,0M9.5,0L11.5,0M13.5,0L14.5,0M21.5,0L23.5,0M25.5,0L27.5,0M29.5,0L31.5,0M33.5,0L35.5,0M17.5,-3.3L20.7,2.3L14.3,2.3ZM17.5,-1.3L19,1.3L16,1.3ZM17,0.5L18,0.5M49.5,0"
]},"legend":{"title":null,"offset":3}}}}
 ],
 "resolve":{"scale":{"shape":"independent","fill":"independent"},"axis":{"x":"independent","y":"independent"}}
}
],"spacing":20}
],
"spacing":26,
"config":{
 "font":"Liberation Sans",
 "view":{"stroke":"black","strokeWidth":1},
 "axis":{"grid":false,"domain":false,"tickSize":-5,"tickColor":"black","tickWidth":1,"labelFont":"Liberation Sans","labelFontSize":13,"labelColor":"black","labelFlush":false,"labelOverlap":false,"titleFont":"Liberation Sans","titleFontSize":13,"titleFontWeight":"normal","titleColor":"black"},
 "axisX":{"labelPadding":11,"titlePadding":6},
 "axisY":{"labelPadding":14,"titlePadding":7},
 "legend":{"orient":"top-right","offset":4,"padding":0,"rowPadding":0,"symbolSize":4,"symbolStrokeWidth":1,"symbolStrokeColor":"black","labelAlign":"right","labelOffset":-13,"labelFont":"Liberation Sans","labelFontSize":13,"labelColor":"black","labelLimit":400,"labelBaseline":"middle"},
 "title":{"font":"Liberation Serif","fontSize":24,"fontWeight":"normal","color":"black","orient":"bottom","frame":"group","anchor":"middle","offset":7}
}
}
